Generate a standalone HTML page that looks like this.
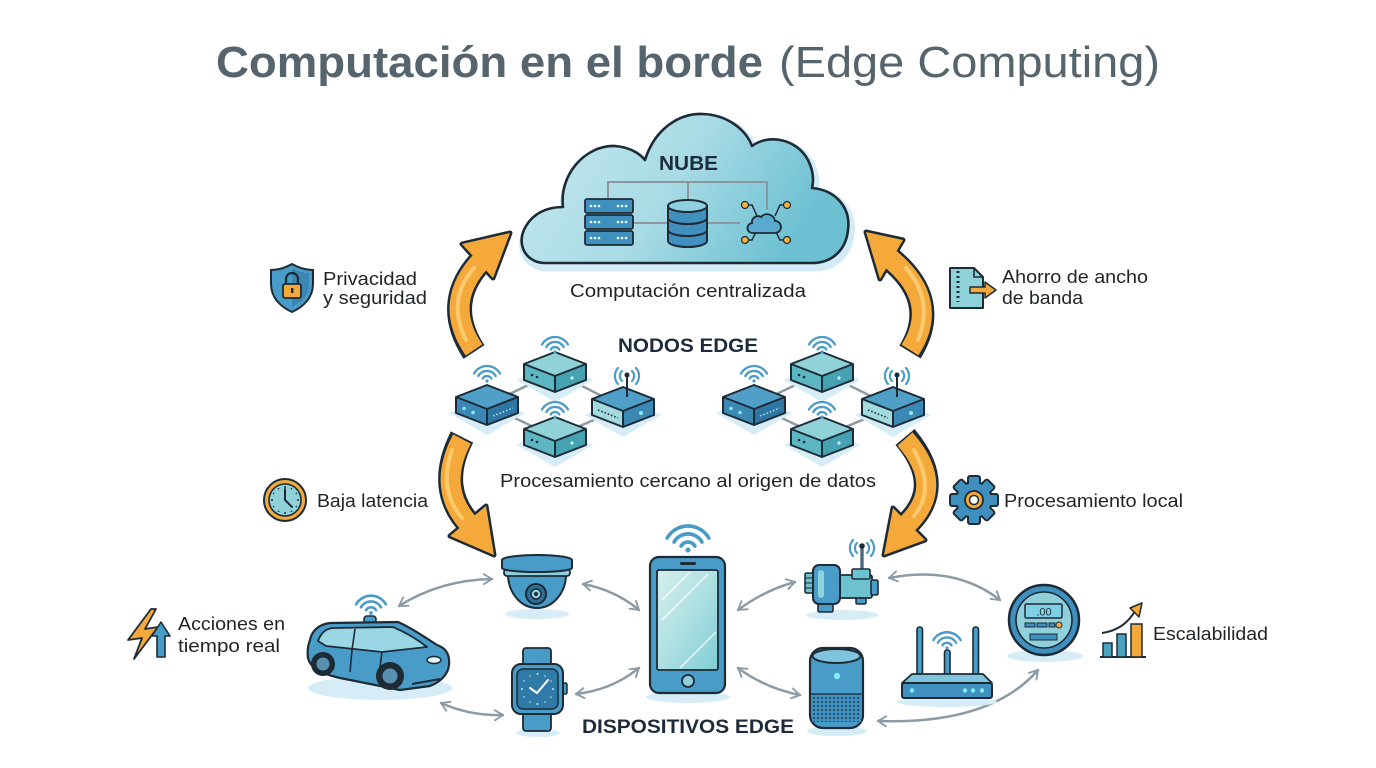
<!DOCTYPE html>
<html><head><meta charset="utf-8">
<style>
html,body{margin:0;padding:0;background:#fff;}
svg{display:block;}
text{font-family:"Liberation Sans",sans-serif;}
</style></head><body>
<svg width="1376" height="768" viewBox="0 0 1376 768" xmlns="http://www.w3.org/2000/svg">
<defs>
 <linearGradient id="cg" x1="0" y1="0" x2="1" y2="0.3">
  <stop offset="0" stop-color="#c6e8ef"/>
  <stop offset="0.55" stop-color="#a8dbe5"/>
  <stop offset="1" stop-color="#6cc0d2"/>
 </linearGradient>
 <linearGradient id="sg" x1="0" y1="0" x2="1" y2="1">
  <stop offset="0" stop-color="#d6f0ee"/>
  <stop offset="0.5" stop-color="#aee0e2"/>
  <stop offset="1" stop-color="#7fcdd6"/>
 </linearGradient>
 <pattern id="mesh" width="4" height="4" patternUnits="userSpaceOnUse">
  <rect width="4" height="4" fill="#3f8fbf"/>
  <circle cx="2" cy="2" r="0.9" fill="#1d2b36"/>
 </pattern>
 <marker id="ah" viewBox="0 0 10 10" refX="8" refY="5" markerWidth="5" markerHeight="5" orient="auto-start-reverse" markerUnits="strokeWidth">
  <path d="M1.5,1 L8,5 L1.5,9" fill="none" stroke="#8c9ba5" stroke-width="1.5" stroke-linecap="round" stroke-linejoin="round"/>
 </marker>
 <g id="wifi" fill="none" stroke="#4a9cc8" stroke-width="2.3" stroke-linecap="round">
  <path d="M-4.3,-2.5 A5,5 0 0 1 4.3,-2.5"/>
  <path d="M-8.7,-5 A10,10 0 0 1 8.7,-5"/>
  <path d="M-13,-7.5 A15,15 0 0 1 13,-7.5"/>
  <circle cx="0" cy="0" r="1.6" fill="#4a9cc8" stroke="none"/>
 </g>
 <g id="sig" fill="none" stroke="#4a9cc8" stroke-width="2.2" stroke-linecap="round">
  <path d="M-5,-5 A7,7 0 0 0 -5,5"/>
  <path d="M-9,-8 A12,12 0 0 0 -9,8"/>
  <path d="M5,-5 A7,7 0 0 1 5,5"/>
  <path d="M9,-8 A12,12 0 0 1 9,8"/>
 </g>
 <path id="shd" d="M-7,28 L31,10 L69,28 L31,50 Z" fill="#d6ecf6"/>
 <g id="bt">
  <use href="#shd"/>
  <path d="M0,12 L31,0 L62,12 L31,24 Z" fill="#90d2d8"/>
  <path d="M0,12 L31,24 L31,40 L0,28 Z" fill="#5db7c3"/>
  <path d="M31,24 L62,12 L62,28 L31,40 Z" fill="#46a2b3"/>
  <circle cx="8" cy="23" r="1.3" fill="#1d2b36"/><circle cx="13" cy="25" r="1.3" fill="#1d2b36"/>
  <circle cx="48" cy="26" r="1.6" fill="#bff3f5"/>
  <path d="M0,12 L31,0 L62,12 L62,28 L31,40 L0,28 Z M0,12 L31,24 L62,12 M31,24 L31,40" fill="none" stroke="#1d2b36" stroke-width="2" stroke-linejoin="round"/>
 </g>
 <g id="bd">
  <use href="#shd"/>
  <path d="M0,12 L31,0 L62,12 L31,24 Z" fill="#4f9fc8"/>
  <path d="M0,12 L31,24 L31,40 L0,28 Z" fill="#3b88b5"/>
  <path d="M31,24 L62,12 L62,28 L31,40 Z" fill="#2e76a3"/>
  <circle cx="8" cy="23.5" r="1.8" fill="#8fe6f0"/><circle cx="17" cy="27.5" r="1.8" fill="#8fe6f0"/>
  <path d="M37,31 L57,23" stroke="#a8dceb" stroke-width="1.6" stroke-dasharray="1.5 2"/>
  <path d="M0,12 L31,0 L62,12 L62,28 L31,40 L0,28 Z M0,12 L31,24 L62,12 M31,24 L31,40" fill="none" stroke="#1d2b36" stroke-width="2" stroke-linejoin="round"/>
 </g>
 <g id="br">
  <use href="#shd"/>
  <path d="M0,12 L31,0 L62,12 L31,24 Z" fill="#4f9fc8"/>
  <path d="M0,12 L31,24 L31,40 L0,28 Z" fill="#a3dadd"/>
  <path d="M31,24 L62,12 L62,28 L31,40 Z" fill="#3b88b5"/>
  <path d="M6,23 L26,31" stroke="#1d2b36" stroke-width="1.6" stroke-dasharray="1.5 2"/>
  <circle cx="49" cy="26" r="2" fill="#8fe6f0"/>
  <path d="M0,12 L31,0 L62,12 L62,28 L31,40 L0,28 Z M0,12 L31,24 L62,12 M31,24 L31,40" fill="none" stroke="#1d2b36" stroke-width="2" stroke-linejoin="round"/>
 </g>
</defs>

<rect width="1376" height="768" fill="#ffffff"/>

<!-- Title -->
<text x="216" y="77" font-size="44" font-weight="bold" fill="#56646e" textLength="547" lengthAdjust="spacingAndGlyphs">Computación en el borde</text>
<text x="779" y="77" font-size="44" fill="#56646e" textLength="381" lengthAdjust="spacingAndGlyphs">(Edge Computing)</text>

<!-- Cloud -->
<path transform="translate(2,4)" d="M545,263 C526,263 515,244 526,226 C533,214 546,207 563,207 C559,175 585,145 615,146 C628,147 638,152 645,160 C655,128 680,113 703,114 C728,115 746,130 752,146 C768,134 796,138 808,160 C813,170 814,180 812,188 C836,190 851,208 848,230 C846,250 832,263 812,263 Z" fill="#d3ebf5" stroke="#d3ebf5" stroke-width="9" stroke-linejoin="round"/>
<path d="M545,263 C526,263 515,244 526,226 C533,214 546,207 563,207 C559,175 585,145 615,146 C628,147 638,152 645,160 C655,128 680,113 703,114 C728,115 746,130 752,146 C768,134 796,138 808,160 C813,170 814,180 812,188 C836,190 851,208 848,230 C846,250 832,263 812,263 Z" fill="url(#cg)" stroke="#1d2b36" stroke-width="2.6" stroke-linejoin="round"/>
<text x="659" y="170" font-size="20" font-weight="bold" fill="#1d2d3d" textLength="59" lengthAdjust="spacingAndGlyphs">NUBE</text>
<g stroke="#8a979e" stroke-width="2" fill="none">
 <path d="M608,198 L608,182 L767,182 L767,210"/>
 <path d="M688,182 L688,199"/>
 <path d="M633,223 L668,223"/>
 <path d="M707,223 L740,223"/>
</g>
<!-- server stack -->
<g stroke="#1d2b36" stroke-width="1.8">
 <rect x="585" y="199" width="48" height="14" rx="2" fill="#3f8fbf"/>
 <rect x="585" y="215" width="48" height="14" rx="2" fill="#3f8fbf"/>
 <rect x="585" y="231" width="48" height="14" rx="2" fill="#3f8fbf"/>
</g>
<g fill="#e8f6fb">
 <circle cx="591" cy="206" r="1.3"/><circle cx="595" cy="206" r="1.3"/><circle cx="599" cy="206" r="1.3"/>
 <circle cx="618" cy="206" r="1.3"/><circle cx="622" cy="206" r="1.3"/><circle cx="626" cy="206" r="1.3"/>
 <circle cx="591" cy="222" r="1.3"/><circle cx="595" cy="222" r="1.3"/><circle cx="599" cy="222" r="1.3"/>
 <circle cx="618" cy="222" r="1.3"/><circle cx="622" cy="222" r="1.3"/><circle cx="626" cy="222" r="1.3"/>
 <circle cx="591" cy="238" r="1.3"/><circle cx="595" cy="238" r="1.3"/><circle cx="599" cy="238" r="1.3"/>
 <circle cx="618" cy="238" r="1.3"/><circle cx="622" cy="238" r="1.3"/><circle cx="626" cy="238" r="1.3"/>
</g>
<!-- database -->
<path d="M668,206 L668,241 A19.5,6 0 0 0 707,241 L707,206" fill="#3f8fbf" stroke="#1d2b36" stroke-width="2"/>
<path d="M668,218 A19.5,6 0 0 0 707,218 M668,230 A19.5,6 0 0 0 707,230" fill="none" stroke="#1d2b36" stroke-width="2"/>
<ellipse cx="687.5" cy="206" rx="19.5" ry="6" fill="#8fd0e0" stroke="#1d2b36" stroke-width="2"/>
<!-- cloud network icon -->
<g stroke="#1d2b36" stroke-width="1.5" fill="none">
 <path d="M745,205 L752,205 L757,216"/><path d="M787,205 L780,205 L775,216"/>
 <path d="M745,240 L752,240 L756,232"/><path d="M787,240 L780,240 L776,232"/>
</g>
<path d="M753,233 L775,233 A6,6 0 0 0 775,221 A8,8 0 0 0 761,217 A6,6 0 0 0 752,223 A5,5 0 0 0 753,233 Z" fill="#5aa9cf" stroke="#1d2b36" stroke-width="1.8"/>
<g fill="#f5b13f" stroke="#1d2b36" stroke-width="1.2">
 <circle cx="745" cy="205" r="3.5"/><circle cx="787" cy="205" r="3.5"/>
 <circle cx="745" cy="240" r="3.5"/><circle cx="787" cy="240" r="3.5"/>
</g>
<text x="570" y="297" font-size="18.5" fill="#1f2428" textLength="236" lengthAdjust="spacingAndGlyphs">Computación centralizada</text>

<!-- Orange arrows: dark layer -->
<g fill="#1d2b36" stroke="#1d2b36" stroke-linejoin="round">
 <path d="M474,352 Q440,300 486,256" fill="none" stroke-width="25"/>
 <polygon points="510,233 462,244 493,278" stroke-width="5"/>
 <path d="M462,437 Q435,490 472,527" fill="none" stroke-width="25"/>
 <polygon points="494,555 450,536 486,506" stroke-width="5"/>
 <path d="M910,352 Q942,300 888,257" fill="none" stroke-width="25"/>
 <polygon points="866,232 903,240 880,279" stroke-width="5"/>
 <path d="M905,437 Q948,488 904,527" fill="none" stroke-width="25"/>
 <polygon points="884,555 893,508 925,540" stroke-width="5"/>
</g>
<!-- Orange arrows: fill layer -->
<g fill="#f5a93a" stroke="#f5a93a">
 <path d="M474,350 Q440,300 486,256" fill="none" stroke-width="20"/>
 <polygon points="510,233 462,244 493,278" stroke-width="0"/>
 <path d="M462,439 Q435,490 472,527" fill="none" stroke-width="20"/>
 <polygon points="494,555 450,536 486,506" stroke-width="0"/>
 <path d="M910,350 Q942,300 888,257" fill="none" stroke-width="20"/>
 <polygon points="866,232 903,240 880,279" stroke-width="0"/>
 <path d="M905,439 Q948,488 904,527" fill="none" stroke-width="20"/>
 <polygon points="884,555 893,508 925,540" stroke-width="0"/>
</g>
<g fill="none" stroke="#fbc96e" stroke-width="4" stroke-linecap="round">
 <path d="M466,340 Q446,300 474,268"/>
 <path d="M452,450 Q438,490 462,518"/>
 <path d="M918,340 Q934,300 906,268"/>
 <path d="M914,450 Q936,490 914,516"/>
</g>

<!-- Edge nodes -->
<text x="618" y="352" font-size="19" font-weight="bold" fill="#1d2b3a" textLength="140" lengthAdjust="spacingAndGlyphs">NODOS EDGE</text>
<g stroke="#8c9ba5" stroke-width="2.5" fill="none">
 <path d="M487,405 L555,372 L623,407 L555,437 Z"/>
 <path d="M754,405 L822,372 L893,407 L822,437 Z"/>
</g>
<use href="#bt" x="524" y="352"/>
<use href="#bd" x="456" y="385"/>
<use href="#br" x="592" y="387"/>
<use href="#bt" x="524" y="417"/>
<use href="#bt" x="791" y="352"/>
<use href="#bd" x="723" y="385"/>
<use href="#br" x="862" y="387"/>
<use href="#bt" x="791" y="417"/>
<!-- antennas -->
<g stroke="#1d2b36" stroke-width="2"><line x1="627" y1="397" x2="627" y2="376"/><line x1="897" y1="397" x2="897" y2="376"/></g>
<circle cx="627" cy="375" r="2.5" fill="#1d2b36"/><circle cx="897" cy="375" r="2.5" fill="#1d2b36"/>
<use href="#sig" x="627" y="376"/><use href="#sig" x="897" y="376"/>
<use href="#wifi" x="487" y="381"/>
<use href="#wifi" x="555" y="352"/>
<use href="#wifi" x="555" y="417"/>
<use href="#wifi" x="754" y="381"/>
<use href="#wifi" x="822" y="352"/>
<use href="#wifi" x="822" y="417"/>
<text x="500" y="487" font-size="18.5" fill="#1f2428" textLength="376" lengthAdjust="spacingAndGlyphs">Procesamiento cercano al origen de datos</text>

<!-- Left benefit labels -->
<path d="M292,264 C299,268 306,270 313,270 L313,284 C313,298 303,307 292,312 C281,307 271,298 271,284 L271,270 C278,270 285,268 292,264 Z" fill="#4a9cc8" stroke="#1d2b36" stroke-width="2"/>
<path d="M292,268 C298,271 304,273 309,273 L309,285 C309,296 301,303 292,307 Z" fill="#3b88b5"/>
<path d="M286,285 L286,279 A6,6 0 0 1 298,279 L298,285" fill="none" stroke="#1d2b36" stroke-width="2.2"/>
<rect x="283" y="284" width="18" height="14" rx="2" fill="#f5a93a" stroke="#1d2b36" stroke-width="1.8"/>
<rect x="291" y="288" width="2.4" height="5" fill="#1d2b36"/>
<text x="323" y="285" font-size="18.5" fill="#1f2428" textLength="94" lengthAdjust="spacingAndGlyphs">Privacidad</text>
<text x="323" y="304" font-size="18.5" fill="#1f2428" textLength="104" lengthAdjust="spacingAndGlyphs">y seguridad</text>

<circle cx="285" cy="500" r="21" fill="#f5a93a" stroke="#1d2b36" stroke-width="2"/>
<circle cx="285" cy="500" r="16" fill="#8fd2da" stroke="#1d2b36" stroke-width="1.6"/>
<g fill="#1d2b36">
 <circle cx="285" cy="487" r="1"/><circle cx="285" cy="513" r="1"/><circle cx="272" cy="500" r="1"/><circle cx="298" cy="500" r="1"/>
 <circle cx="291.5" cy="488.7" r="0.8"/><circle cx="296.3" cy="493.5" r="0.8"/><circle cx="278.5" cy="488.7" r="0.8"/><circle cx="273.7" cy="493.5" r="0.8"/>
 <circle cx="291.5" cy="511.3" r="0.8"/><circle cx="296.3" cy="506.5" r="0.8"/><circle cx="278.5" cy="511.3" r="0.8"/><circle cx="273.7" cy="506.5" r="0.8"/>
</g>
<path d="M285,489 L285,500 L292,507" fill="none" stroke="#1d2b36" stroke-width="2" stroke-linecap="round"/>
<text x="317" y="507" font-size="18.5" fill="#1f2428" textLength="111" lengthAdjust="spacingAndGlyphs">Baja latencia</text>

<polygon points="151,609 128,640 142,638 134,659 158,627 145,629 156,609" fill="#f5a93a" stroke="#1d2b36" stroke-width="1.8" stroke-linejoin="round"/>
<polygon points="161,622 170,636 165,636 165,657 157,657 157,636 152,636" fill="#4a9cc8" stroke="#1d2b36" stroke-width="1.6" stroke-linejoin="round"/>
<text x="178" y="630" font-size="18.5" fill="#1f2428" textLength="107" lengthAdjust="spacingAndGlyphs">Acciones en</text>
<text x="178" y="652" font-size="18.5" fill="#1f2428" textLength="102" lengthAdjust="spacingAndGlyphs">tiempo real</text>

<!-- Right benefit labels -->
<path d="M950,268 L974,268 L983,277 L983,308 L950,308 Z" fill="#8fd2da" stroke="#1d2b36" stroke-width="2" stroke-linejoin="round"/>
<path d="M974,268 L974,277 L983,277" fill="none" stroke="#1d2b36" stroke-width="1.6"/>
<path d="M958,271 L958,302" stroke="#1d2b36" stroke-width="3" stroke-dasharray="2 3"/>
<path d="M970,287 L985,287 L985,282 L996,290 L985,298 L985,293 L970,293 Z" fill="#f5a93a" stroke="#1d2b36" stroke-width="1.5" stroke-linejoin="round"/>
<text x="1002" y="283" font-size="18.5" fill="#1f2428" textLength="146" lengthAdjust="spacingAndGlyphs">Ahorro de ancho</text>
<text x="1002" y="304" font-size="18.5" fill="#1f2428" textLength="81" lengthAdjust="spacingAndGlyphs">de banda</text>

<g transform="translate(974,500)">
 <g fill="#1d2b36" stroke="#1d2b36" stroke-width="4" stroke-linejoin="round">
  <circle r="17"/>
  <rect x="-5" y="-23" width="10" height="10" rx="1"/>
  <rect x="-5" y="-23" width="10" height="10" rx="1" transform="rotate(45)"/>
  <rect x="-5" y="-23" width="10" height="10" rx="1" transform="rotate(90)"/>
  <rect x="-5" y="-23" width="10" height="10" rx="1" transform="rotate(135)"/>
  <rect x="-5" y="-23" width="10" height="10" rx="1" transform="rotate(180)"/>
  <rect x="-5" y="-23" width="10" height="10" rx="1" transform="rotate(225)"/>
  <rect x="-5" y="-23" width="10" height="10" rx="1" transform="rotate(270)"/>
  <rect x="-5" y="-23" width="10" height="10" rx="1" transform="rotate(315)"/>
 </g>
 <g fill="#3f8fbf">
  <circle r="17"/>
  <rect x="-5" y="-23" width="10" height="10" rx="1"/>
  <rect x="-5" y="-23" width="10" height="10" rx="1" transform="rotate(45)"/>
  <rect x="-5" y="-23" width="10" height="10" rx="1" transform="rotate(90)"/>
  <rect x="-5" y="-23" width="10" height="10" rx="1" transform="rotate(135)"/>
  <rect x="-5" y="-23" width="10" height="10" rx="1" transform="rotate(180)"/>
  <rect x="-5" y="-23" width="10" height="10" rx="1" transform="rotate(225)"/>
  <rect x="-5" y="-23" width="10" height="10" rx="1" transform="rotate(270)"/>
  <rect x="-5" y="-23" width="10" height="10" rx="1" transform="rotate(315)"/>
 </g>
 <circle r="9" fill="#f5a93a" stroke="#1d2b36" stroke-width="1.8"/>
 <circle r="4.5" fill="#ffffff" stroke="#1d2b36" stroke-width="1.5"/>
</g>
<text x="1004" y="507" font-size="18.5" fill="#1f2428" textLength="179" lengthAdjust="spacingAndGlyphs">Procesamiento local</text>

<!-- Scalability -->
<line x1="1100" y1="657" x2="1146" y2="657" stroke="#1d2b36" stroke-width="2"/>
<rect x="1103" y="643" width="9" height="14" fill="#4aa4c0" stroke="#1d2b36" stroke-width="1.5"/>
<rect x="1117" y="634" width="9" height="23" fill="#4aa4c0" stroke="#1d2b36" stroke-width="1.5"/>
<rect x="1131" y="624" width="11" height="33" fill="#f5a93a" stroke="#1d2b36" stroke-width="1.5"/>
<path d="M1102,633 Q1124,630 1135,611" fill="none" stroke="#1d2b36" stroke-width="2"/>
<polygon points="1142,603 1130,608 1139,617" fill="#f5a93a" stroke="#1d2b36" stroke-width="1.5" stroke-linejoin="round"/>
<text x="1153" y="640" font-size="18.5" fill="#1f2428" textLength="115" lengthAdjust="spacingAndGlyphs">Escalabilidad</text>

<!-- Device connectors -->
<g fill="none" stroke="#8c9ba5" stroke-width="2.5" stroke-linecap="round" marker-start="url(#ah)" marker-end="url(#ah)">
 <path d="M399,606 Q440,580 492,579"/>
 <path d="M441,703 Q470,716 503,715"/>
 <path d="M583,584 Q615,590 639,610"/>
 <path d="M576,694 Q612,690 639,668"/>
 <path d="M738,610 Q765,590 795,582"/>
 <path d="M738,668 Q765,688 800,695"/>
 <path d="M889,578 Q955,565 1000,600"/>
 <path d="M878,721 Q990,725 1038,670"/>
</g>

<!-- Car -->
<ellipse cx="380" cy="688" rx="72" ry="12" fill="#d6ecf6"/>
<use href="#wifi" transform="translate(371,613) scale(1.15)"/>
<rect x="364" y="616" width="12" height="7" rx="3" fill="#4a9cc8" stroke="#1d2b36" stroke-width="1.6"/>
<path d="M310,640 C312,630 320,624 330,623 L398,622 C412,628 426,638 437,645 C446,648 450,655 449,665 C448,675 440,682 430,686 L400,690 L340,678 C322,674 310,668 308,658 C307,650 308,645 310,640 Z" fill="#4a9cc8" stroke="#1d2b36" stroke-width="2.2" stroke-linejoin="round"/>
<path d="M318,641 C321,633 326,628 334,628 L393,627 C405,632 418,640 427,647 L382,652 L326,646 Z" fill="#9ad6e4" stroke="#1d2b36" stroke-width="1.8" stroke-linejoin="round"/>
<path d="M355,629 L352,650 M352,650 L350,672" stroke="#1d2b36" stroke-width="1.6"/>
<path d="M382,652 L378,682" stroke="#1d2b36" stroke-width="1.6"/>
<ellipse cx="434" cy="660" rx="7" ry="3.5" fill="#e8f7fb" stroke="#1d2b36" stroke-width="1.5"/>
<path d="M412,684 L440,679" stroke="#1d2b36" stroke-width="2"/>
<circle cx="323" cy="664" r="12" fill="#1d2b36"/><circle cx="323" cy="664" r="6.5" fill="#5b8fb0"/>
<circle cx="390" cy="676" r="14" fill="#1d2b36"/><circle cx="390" cy="676" r="7.5" fill="#5b8fb0"/>

<!-- Camera -->
<ellipse cx="537" cy="614" rx="32" ry="5" fill="#d6ecf6"/>
<path d="M508,574 A29,34 0 0 0 566,574 Z" fill="#4a9cc8" stroke="#1d2b36" stroke-width="2"/>
<rect x="504" y="569" width="66" height="7" rx="3" fill="#8fd0dc" stroke="#1d2b36" stroke-width="1.8"/>
<path d="M502,560 A35,5 0 0 1 572,560 L572,568 A35,4 0 0 1 502,568 Z" fill="#4a9cc8" stroke="#1d2b36" stroke-width="2"/>
<circle cx="536" cy="594" r="10" fill="#2e6f99" stroke="#1d2b36" stroke-width="2"/>
<circle cx="536" cy="594" r="5" fill="#8fd0dc" stroke="#1d2b36" stroke-width="1.5"/>
<circle cx="536" cy="594" r="2" fill="#1d2b36"/>

<!-- Watch -->
<ellipse cx="538" cy="733" rx="22" ry="4" fill="#d6ecf6"/>
<rect x="523" y="648" width="28" height="20" rx="3" fill="#4a9cc8" stroke="#1d2b36" stroke-width="1.8"/>
<rect x="523" y="710" width="28" height="21" rx="3" fill="#4a9cc8" stroke="#1d2b36" stroke-width="1.8"/>
<rect x="562" y="683" width="5" height="11" rx="1.5" fill="#4a9cc8" stroke="#1d2b36" stroke-width="1.5"/>
<rect x="512" y="664" width="51" height="50" rx="9" fill="#4a9cc8" stroke="#1d2b36" stroke-width="2"/>
<rect x="517" y="669" width="41" height="40" rx="6" fill="#2f7aa6" stroke="#1d2b36" stroke-width="1.5"/>
<g fill="#bfe8f2"><circle cx="537.5" cy="674" r="1"/><circle cx="537.5" cy="704" r="1"/><circle cx="522" cy="689" r="1"/><circle cx="553" cy="689" r="1"/>
<circle cx="530" cy="676" r="0.8"/><circle cx="545" cy="676" r="0.8"/><circle cx="530" cy="702" r="0.8"/><circle cx="545" cy="702" r="0.8"/>
<circle cx="524" cy="681" r="0.8"/><circle cx="551" cy="681" r="0.8"/><circle cx="524" cy="697" r="0.8"/><circle cx="551" cy="697" r="0.8"/></g>
<path d="M530,688 L537,693 L548,680" fill="none" stroke="#ffffff" stroke-width="2" stroke-linecap="round"/>

<!-- Phone -->
<ellipse cx="688" cy="697" rx="42" ry="6" fill="#d6ecf6"/>
<use href="#wifi" transform="translate(688,550) scale(1.6)"/>
<rect x="650" y="557" width="75" height="136" rx="9" fill="#4a9cc8" stroke="#1d2b36" stroke-width="2.2"/>
<rect x="657" y="570" width="61" height="100" rx="2" fill="url(#sg)" stroke="#1d2b36" stroke-width="1.8"/>
<path d="M662,600 L690,572 M662,620 L708,574 M680,668 L716,632" stroke="#ffffff" stroke-width="2" opacity="0.6"/>
<rect x="680" y="562" width="16" height="3" rx="1.5" fill="#1d2b36"/>
<circle cx="688" cy="681" r="6" fill="#8fd0dc" stroke="#1d2b36" stroke-width="1.8"/>

<!-- Industrial sensor -->
<ellipse cx="842" cy="615" rx="36" ry="5" fill="#d6ecf6"/>
<line x1="862" y1="547" x2="862" y2="572" stroke="#1d2b36" stroke-width="3"/>
<line x1="862" y1="548" x2="862" y2="571" stroke="#4a9cc8" stroke-width="1.2"/>
<circle cx="862" cy="546" r="2.8" fill="#1d2b36"/>
<use href="#sig" x="862" y="548"/>
<rect x="818" y="600" width="15" height="12" rx="1.5" fill="#4a9cc8" stroke="#1d2b36" stroke-width="1.6"/>
<rect x="856" y="595" width="10" height="9" rx="1.5" fill="#4a9cc8" stroke="#1d2b36" stroke-width="1.6"/>
<rect x="838" y="575" width="34" height="23" rx="2" fill="#6cc2cf" stroke="#1d2b36" stroke-width="1.8"/>
<rect x="852" y="569" width="18" height="10" rx="1.5" fill="#6cc2cf" stroke="#1d2b36" stroke-width="1.6"/>
<rect x="871" y="580" width="7" height="15" rx="1.5" fill="#4a9cc8" stroke="#1d2b36" stroke-width="1.6"/>
<rect x="805" y="573" width="10" height="20" rx="1.5" fill="#6cc2cf" stroke="#1d2b36" stroke-width="1.6"/>
<path d="M805,578 L815,578 M805,583 L815,583 M805,588 L815,588" stroke="#1d2b36" stroke-width="1"/>
<rect x="813" y="565" width="27" height="39" rx="6" fill="#4a9cc8" stroke="#1d2b36" stroke-width="2"/>
<rect x="818" y="570" width="6" height="28" rx="3" fill="#8fd0dc"/>

<!-- Smart speaker -->
<ellipse cx="837" cy="731" rx="30" ry="5" fill="#d6ecf6"/>
<rect x="810" y="648" width="53" height="80" rx="13" fill="#4a9cc8" stroke="#1d2b36" stroke-width="2.2"/>
<rect x="812" y="694" width="49" height="28" fill="url(#mesh)"/>
<path d="M810,694 L863,694" stroke="#1d2b36" stroke-width="1.2"/>
<ellipse cx="836.5" cy="656" rx="24" ry="7" fill="#7fc4dc" stroke="#1d2b36" stroke-width="2"/>
<circle cx="837" cy="676" r="3.2" fill="#7ef2f7"/>

<!-- Router -->
<ellipse cx="947" cy="702" rx="50" ry="5" fill="#d6ecf6"/>
<rect x="917" y="627" width="5.5" height="50" rx="2.5" fill="#4a9cc8" stroke="#1d2b36" stroke-width="1.6"/>
<rect x="973" y="627" width="5.5" height="50" rx="2.5" fill="#4a9cc8" stroke="#1d2b36" stroke-width="1.6"/>
<rect x="944.5" y="650" width="5.5" height="27" rx="2.5" fill="#4a9cc8" stroke="#1d2b36" stroke-width="1.6"/>
<use href="#wifi" transform="translate(947,648) scale(1.05)"/>
<polygon points="912,674 983,674 992,683 902,683" fill="#7fc4dc" stroke="#1d2b36" stroke-width="1.8" stroke-linejoin="round"/>
<rect x="902" y="683" width="90" height="15" rx="2" fill="#3f8fbf" stroke="#1d2b36" stroke-width="2"/>
<g fill="#7ef2f7"><circle cx="912" cy="690.5" r="2.2"/><circle cx="965" cy="690.5" r="2.2"/><circle cx="973" cy="690.5" r="2.2"/><circle cx="982" cy="690.5" r="2.2"/></g>

<!-- Meter -->
<ellipse cx="1045" cy="656" rx="38" ry="6" fill="#d6ecf6"/>
<circle cx="1044" cy="620" r="35" fill="#3f8fbf" stroke="#1d2b36" stroke-width="2.5"/>
<circle cx="1044" cy="620" r="28" fill="#8fd0da" stroke="#1d2b36" stroke-width="1.6"/>
<rect x="1025" y="604" width="37" height="14" rx="1.5" fill="#7fd0e4" stroke="#1d2b36" stroke-width="1.5"/>
<text x="1044" y="615.5" font-size="11" fill="#1d2b36" text-anchor="middle" font-family="Liberation Mono, monospace">.00</text>
<g fill="#3f8fbf" stroke="#1d2b36" stroke-width="1">
 <rect x="1025" y="623" width="10" height="4"/><rect x="1037" y="623" width="10" height="4"/><rect x="1049" y="623" width="6" height="4"/>
 <rect x="1030" y="634" width="27" height="6"/>
</g>
<circle cx="1059" cy="625" r="3" fill="#f5a93a" stroke="#1d2b36" stroke-width="1"/>

<text x="582" y="733" font-size="19" font-weight="bold" fill="#1d2b3a" textLength="212" lengthAdjust="spacingAndGlyphs">DISPOSITIVOS EDGE</text>
</svg>
</body></html>
